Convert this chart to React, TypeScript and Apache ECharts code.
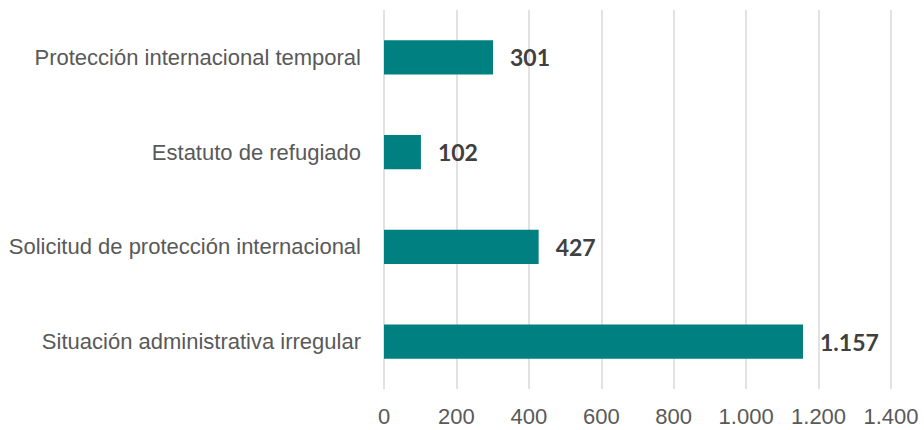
import React, { useEffect, useRef } from "react";
import * as echarts from "echarts";

const categories = [
  "Protección internacional temporal",
  "Estatuto de refugiado",
  "Solicitud de protección internacional",
  "Situación administrativa irregular",
];
const values = [301, 102, 427, 1157];
const axisMin = 0;
const axisMax = 1400;
const axisStep = 200;

const fmt = (v: number) => String(v).replace(/\B(?=(\d{3})+(?!\d))/g, ".");

export default function App() {
  const ref = useRef<HTMLDivElement>(null);
  useEffect(() => {
    if (!ref.current) return;
    const chart = echarts.init(ref.current, null, { renderer: "svg" });
    chart.setOption({
      animation: false,
      backgroundColor: "#ffffff",
      grid: { left: 384, right: 33, top: 10, bottom: 41, containLabel: false },
      xAxis: {
        type: "value",
        min: axisMin,
        max: axisMax,
        interval: axisStep,
        axisLine: { show: false },
        axisTick: { show: false },
        splitLine: { show: true, lineStyle: { color: "#d9d9d9", width: 1.5 } },
        axisLabel: {
          formatter: (v: number) => fmt(v),
          color: "#595959",
          fontFamily: "'Liberation Sans Narrow', 'Arial Narrow', sans-serif",
          fontSize: 22,
          margin: 16,
        },
      },
      yAxis: {
        type: "category",
        data: categories,
        inverse: true,
        axisLine: { show: false },
        axisTick: { show: false },
        splitLine: { show: false },
        axisLabel: {
          color: "#595959",
          fontFamily: "'Liberation Sans Narrow', 'Arial Narrow', sans-serif",
          fontSize: 22,
          margin: 23,
        },
      },
      series: [
        {
          type: "bar",
          data: values,
          barWidth: "36%",
          itemStyle: { color: "#008080" },
          label: {
            show: true,
            position: "right",
            distance: 17,
            formatter: (p: any) => fmt(p.value),
            color: "#404040",
            fontFamily: "Lato, 'Open Sans', sans-serif",
            fontWeight: "bold",
            fontSize: 23,
          },
        },
      ],
    });
    return () => chart.dispose();
  }, []);
  return (
    <div
      ref={ref}
      style={{ position: "fixed", left: 0, top: 0, width: 924, height: 430 }}
    />
  );
}
